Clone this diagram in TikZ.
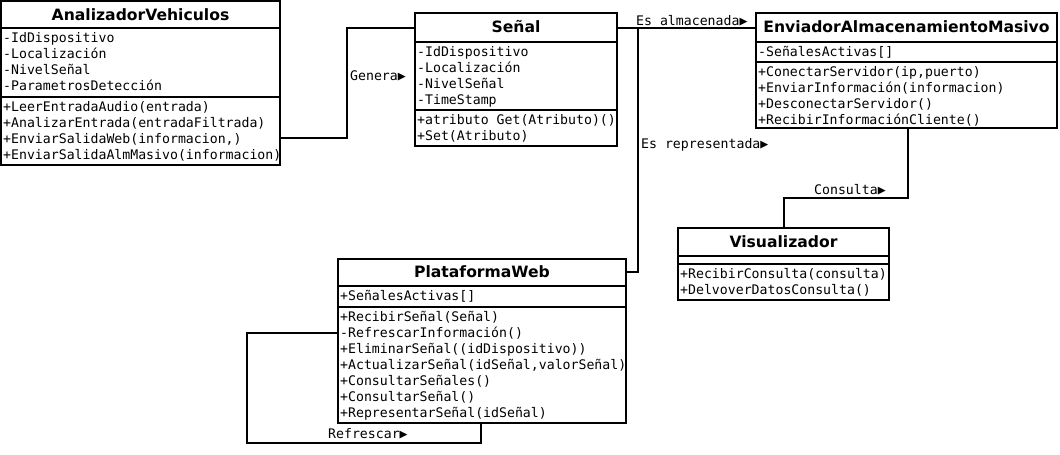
\documentclass[tikz,border=0pt]{standalone}
\usepackage{fontspec}
\setmainfont{DejaVu Sans}
\newfontfamily\monof{DejaVu Sans Mono}
\newfontfamily\titlef{DejaVu Sans}
\usetikzlibrary{calc}
\tikzset{
  classbox/.style={draw, line width=2pt, anchor=north west, inner sep=0pt, outer sep=0pt},
  sepline/.style={line width=2pt},
  conn/.style={line width=2pt},
  classtitle/.style={anchor=base, inner sep=0pt, font=\titlef\bfseries\fontsize{15.6}{18}\selectfont},
  members/.style={anchor=north west, inner sep=0pt, align=left, font=\monof\fontsize{13.2}{16}\selectfont},
  rellabel/.style={anchor=base west, inner sep=0pt, font=\monof\fontsize{13.2}{16}\selectfont},
}
\newcommand{\fl}{\rule{0pt}{11pt}}
\begin{document}
\begin{tikzpicture}[x=1pt,y=-1pt]
\useasboundingbox (0,0) rectangle (1060,455);

% AnalizadorVehiculos
\node[classbox, minimum width=279pt, minimum height=164pt] (av) at (1,1) {};
\draw[sepline] ($(av.north west)+(0,27)$) -- ($(av.north east)+(0,27)$);
\draw[sepline] ($(av.north west)+(0,96)$) -- ($(av.north east)+(0,96)$);
\node[classtitle] (avt) at ($(av.north)+(0,19)$) {AnalizadorVehiculos};
\node[members] (ava) at ($(av.north west)+(2,30)$) {\fl-IdDispositivo\\-Localización\\-NivelSeñal\\-ParametrosDetección};
\node[members] (avm) at ($(av.north west)+(2,99)$) {\fl+LeerEntradaAudio(entrada)\\+AnalizarEntrada(entradaFiltrada)\\+EnviarSalidaWeb(informacion,)\\+EnviarSalidaAlmMasivo(informacion)};

% Señal
\node[classbox, minimum width=202pt, minimum height=133pt] (sen) at (415,13) {};
\draw[sepline] ($(sen.north west)+(0,29)$) -- ($(sen.north east)+(0,29)$);
\draw[sepline] ($(sen.north west)+(0,97)$) -- ($(sen.north east)+(0,97)$);
\node[classtitle] (sent) at ($(sen.north)+(0,19)$) {Señal};
\node[members] (sena) at ($(sen.north west)+(2,32)$) {\fl-IdDispositivo\\-Localización\\-NivelSeñal\\-TimeStamp};
\node[members] (senm) at ($(sen.north west)+(2,100)$) {\fl+atributo Get(Atributo)()\\+Set(Atributo)};

% EnviadorAlmacenamientoMasivo
\node[classbox, minimum width=301pt, minimum height=115pt] (env) at (756,13) {};
\draw[sepline] ($(env.north west)+(0,29)$) -- ($(env.north east)+(0,29)$);
\draw[sepline] ($(env.north west)+(0,49)$) -- ($(env.north east)+(0,49)$);
\node[classtitle] (envt) at ($(env.north)+(0,19)$) {EnviadorAlmacenamientoMasivo};
\node[members] (enva) at ($(env.north west)+(2,32)$) {\fl-SeñalesActivas[]};
\node[members] (envm) at ($(env.north west)+(2,52)$) {\fl+ConectarServidor(ip,puerto)\\+EnviarInformación(informacion)\\+DesconectarServidor()\\+RecibirInformaciónCliente()};

% Visualizador
\node[classbox, minimum width=211pt, minimum height=72pt] (vis) at (678,228) {};
\draw[sepline] ($(vis.north west)+(0,28)$) -- ($(vis.north east)+(0,28)$);
\draw[sepline] ($(vis.north west)+(0,36)$) -- ($(vis.north east)+(0,36)$);
\node[classtitle] (vist) at ($(vis.north)+(0,19)$) {Visualizador};
\node[members] (vism) at ($(vis.north west)+(2,39)$) {\fl+RecibirConsulta(consulta)\\+DelvoverDatosConsulta()};

% PlataformaWeb
\node[classbox, minimum width=288pt, minimum height=164pt] (pw) at (338,259) {};
\draw[sepline] ($(pw.north west)+(0,27)$) -- ($(pw.north east)+(0,27)$);
\draw[sepline] ($(pw.north west)+(0,48)$) -- ($(pw.north east)+(0,48)$);
\node[classtitle] (pwt) at ($(pw.north)+(0,18)$) {PlataformaWeb};
\node[members] (pwa) at ($(pw.north west)+(2,30)$) {\fl+SeñalesActivas[]};
\node[members] (pwm) at ($(pw.north west)+(2,51)$) {\fl+RecibirSeñal(Señal)\\-RefrescarInformación()\\+EliminarSeñal((idDispositivo))\\+ActualizarSeñal(idSeñal,valorSeñal)\\+ConsultarSeñales()\\+ConsultarSeñal()\\+RepresentarSeñal(idSeñal)};

% connectors
\draw[conn] ($(av.north east)+(0,137)$) -- ++(67,0) |- ($(sen.north west)+(0,15)$);
\draw[conn] ($(sen.north east)+(0,15)$) -- ($(env.north west)+(0,15)$);
\draw[conn] ($(sen.north east)+(21,15)$) |- ($(pw.north east)+(0,13)$);
\draw[conn] ($(env.south west)+(152,0)$) -- ++(0,70) -| ($(vis.north west)+(106,0)$);
\draw[conn] ($(pw.north west)+(0,74)$) -- ++(-91,0) -- ++(0,110) -| ($(pw.south west)+(143,0)$);

% labels
\node[rellabel] (lgen) at (350,80) {Genera▶};
\node[rellabel] (lalm) at (636,25) {Es almacenada▶};
\node[rellabel] (lrep) at (641,148) {Es representada▶};
\node[rellabel] (lcon) at (814,194) {Consulta▶};
\node[rellabel] (lref) at (328,438) {Refrescar▶};
\end{tikzpicture}
\end{document}
